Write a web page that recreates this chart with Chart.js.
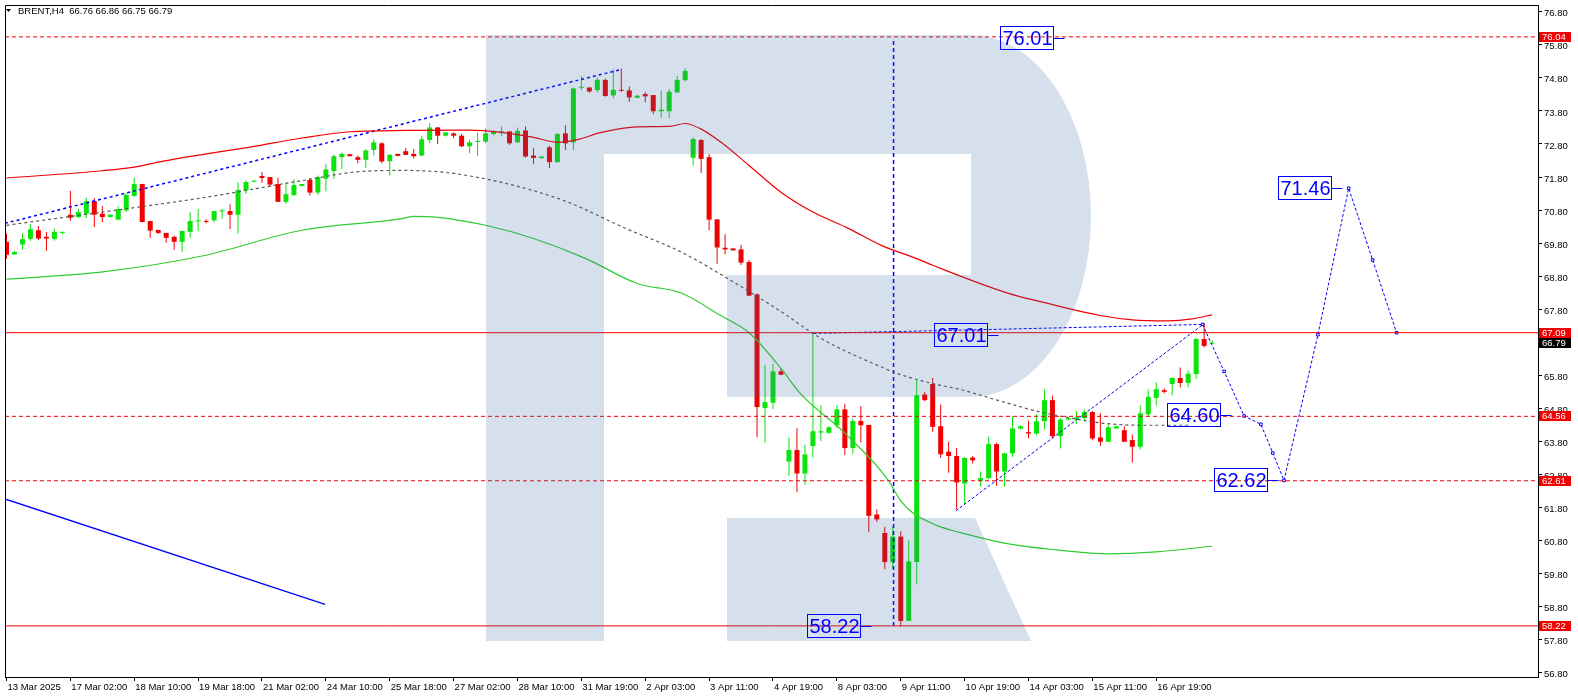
<!DOCTYPE html>
<html>
<head>
<meta charset="utf-8">
<script src="https://cdn.jsdelivr.net/npm/chart.js@4.4.1/dist/chart.umd.min.js"></script>
<style>
  html, body { margin: 0; padding: 0; background: #fff; }
  #wrap { width: 1578px; height: 698px; }
</style>
</head>
<body>
<div id="wrap"><canvas id="brent-chart" width="1578" height="698"></canvas></div>
<script>
// BRENT H4 candles, oldest first
const openV = [
  69.84, 69.46, 69.76, 69.93, 70.19, 69.99, 69.93, 70.11, 70.66, 70.59,
  70.69, 71.07, 70.69, 70.59, 70.51, 70.79, 71.23, 71.59, 70.47, 70.20,
  70.11, 69.99, 69.84, 70.14, 70.46, 70.47, 70.49, 70.76, 70.77, 70.66,
  71.40, 71.66, 71.83, 71.80, 71.59, 71.05, 71.25, 71.53, 71.71, 71.33,
  71.75, 71.98, 72.40, 72.49, 72.40, 72.32, 72.62, 72.82, 72.28, 72.50,
  72.58, 72.50, 72.45, 72.92, 73.30, 73.05, 73.12, 73.05, 72.73, 72.86,
  72.87, 73.10, 73.13, 73.18, 72.85, 73.21, 72.45, 72.37, 72.70, 72.25,
  73.12, 72.85, 74.50, 74.51, 74.43, 74.74, 74.27, 74.44, 74.42, 74.20,
  74.31, 74.28, 73.79, 73.79, 74.36, 74.73, 72.38, 72.92, 72.40, 70.52,
  69.66, 69.64, 69.61, 69.23, 68.25, 64.81, 64.97, 65.92, 63.19, 63.54,
  62.83, 63.66, 64.07, 64.06, 64.29, 64.77, 63.60, 64.42, 64.30, 61.59,
  61.03, 60.15, 60.92, 58.37, 60.15, 65.22, 65.54, 64.26, 63.49, 63.36,
  62.53, 63.31, 62.61, 62.69, 63.72, 62.89, 63.44, 64.19, 64.08, 64.04,
  64.41, 65.05, 63.96, 64.46, 64.46, 64.51, 64.69, 63.92, 63.79, 64.19,
  64.14, 63.84, 63.64, 64.62, 65.12, 65.35, 65.54, 65.72, 65.57, 65.84,
  66.90, 66.76
];
const highV = [
  70.09, 69.56, 70.09, 70.38, 70.32, 70.14, 70.24, 70.15, 71.38, 70.84,
  71.17, 71.16, 70.92, 70.67, 70.91, 71.31, 71.78, 71.60, 70.47, 70.20,
  70.11, 70.02, 70.17, 70.74, 70.83, 70.52, 70.77, 70.83, 70.98, 71.64,
  71.70, 71.71, 71.95, 71.80, 71.78, 71.63, 71.73, 71.59, 71.77, 71.85,
  72.20, 72.48, 72.55, 72.49, 72.45, 72.65, 72.95, 72.85, 72.50, 72.50,
  72.68, 72.65, 73.05, 73.43, 73.31, 73.16, 73.15, 73.10, 72.93, 73.15,
  73.27, 73.21, 73.33, 73.19, 73.30, 73.33, 72.67, 72.43, 72.75, 73.13,
  73.37, 74.51, 74.86, 74.51, 74.81, 74.78, 75.06, 75.08, 74.54, 74.29,
  74.38, 74.28, 74.41, 74.46, 74.86, 75.08, 73.00, 72.95, 72.50, 70.52,
  70.07, 69.64, 69.74, 69.29, 68.28, 66.12, 66.14, 66.01, 63.93, 64.20,
  63.70, 67.06, 64.90, 64.26, 64.90, 64.94, 64.49, 64.87, 64.30, 61.74,
  61.22, 61.22, 61.08, 60.80, 65.67, 65.30, 65.72, 64.92, 63.79, 63.60,
  63.33, 63.36, 62.89, 63.94, 63.76, 63.46, 64.56, 64.29, 64.43, 64.63,
  65.38, 65.19, 64.51, 64.54, 64.72, 64.77, 64.72, 64.65, 64.31, 64.26,
  64.26, 64.01, 64.90, 65.38, 65.59, 65.41, 65.74, 66.04, 65.95, 66.92,
  67.38, 66.86
];
const lowV = [
  69.33, 69.44, 69.60, 69.87, 69.89, 69.57, 69.87, 70.06, 70.48, 70.56,
  70.56, 70.29, 70.44, 70.57, 70.50, 70.74, 71.20, 70.43, 69.96, 70.08,
  69.81, 69.60, 69.54, 69.96, 70.17, 70.40, 70.43, 70.54, 70.23, 70.09,
  71.29, 71.64, 71.63, 71.50, 71.05, 70.99, 71.23, 71.52, 71.24, 71.26,
  71.37, 71.75, 72.04, 72.43, 72.22, 72.07, 72.45, 72.22, 71.84, 72.43,
  72.47, 72.36, 72.43, 72.83, 72.80, 73.03, 72.98, 72.70, 72.52, 72.44,
  72.83, 73.06, 73.05, 72.78, 72.83, 72.39, 72.20, 72.36, 72.07, 72.25,
  72.62, 72.62, 74.43, 74.36, 74.36, 74.24, 74.18, 74.38, 74.08, 74.18,
  74.06, 73.70, 73.60, 73.58, 74.34, 74.69, 72.15, 71.92, 70.19, 69.18,
  69.46, 69.58, 69.14, 68.20, 63.93, 63.76, 64.78, 65.80, 62.76, 62.26,
  62.49, 63.31, 63.81, 64.03, 64.21, 63.39, 63.43, 63.77, 61.05, 61.37,
  59.93, 59.95, 58.20, 58.37, 59.48, 65.02, 64.09, 63.30, 62.85, 61.75,
  61.90, 63.13, 62.43, 62.66, 62.46, 62.43, 63.33, 64.16, 63.90, 63.99,
  64.16, 63.90, 63.59, 64.44, 64.33, 64.43, 63.84, 63.66, 63.79, 64.19,
  63.78, 63.16, 63.56, 64.56, 64.89, 65.25, 65.20, 65.44, 65.44, 65.69,
  66.64, 66.75
];
const closeV = [
  69.45, 69.53, 69.92, 70.22, 69.94, 69.94, 70.14, 70.14, 70.57, 70.74,
  71.07, 70.66, 70.59, 70.66, 70.83, 71.26, 71.59, 70.44, 70.18, 70.11,
  69.96, 69.84, 70.17, 70.47, 70.48, 70.44, 70.77, 70.77, 70.66, 71.41,
  71.65, 71.68, 71.77, 71.57, 71.05, 71.28, 71.56, 71.59, 71.33, 71.80,
  72.03, 72.43, 72.50, 72.43, 72.32, 72.60, 72.85, 72.27, 72.47, 72.44,
  72.47, 72.43, 72.94, 73.30, 73.05, 73.15, 73.05, 72.73, 72.85, 72.87,
  73.12, 73.18, 73.18, 72.82, 73.20, 72.42, 72.38, 72.42, 72.25, 73.10,
  72.82, 74.48, 74.51, 74.39, 74.74, 74.25, 74.44, 74.41, 74.21, 74.26,
  74.24, 73.79, 73.84, 74.38, 74.74, 75.01, 72.95, 72.35, 70.51, 69.67,
  69.61, 69.58, 69.21, 68.21, 64.84, 64.99, 65.92, 65.82, 63.54, 62.83,
  63.41, 64.11, 64.11, 64.23, 64.77, 63.60, 64.42, 64.29, 61.55, 61.44,
  60.15, 60.92, 58.37, 60.17, 65.20, 65.05, 64.24, 63.41, 63.36, 62.56,
  63.30, 63.23, 62.69, 63.72, 62.89, 63.44, 64.19, 64.26, 64.04, 64.41,
  65.05, 63.96, 64.46, 64.50, 64.53, 64.69, 63.89, 63.79, 64.23, 64.26,
  63.79, 63.64, 64.65, 65.15, 65.38, 65.30, 65.72, 65.57, 65.85, 66.90,
  66.69, 66.79
];

// axis labels
const xTickIdx = [0, 8, 16, 24, 32, 40, 48, 56, 64, 72, 80, 88, 96, 104, 112, 120, 128, 136, 144];
const xTickLabels = [
  "13 Mar 2025", "17 Mar 02:00", "18 Mar 10:00", "19 Mar 18:00", "21 Mar 02:00",
  "24 Mar 10:00", "25 Mar 18:00", "27 Mar 02:00", "28 Mar 10:00", "31 Mar 19:00",
  "2 Apr 03:00", "3 Apr 11:00", "4 Apr 19:00", "8 Apr 03:00", "9 Apr 11:00",
  "10 Apr 19:00", "14 Apr 03:00", "15 Apr 11:00", "16 Apr 19:00"
];
const yTicks = [56.8, 57.8, 58.8, 59.8, 60.8, 61.8, 62.8, 63.8, 64.8, 65.8, 66.8,
  67.8, 68.8, 69.8, 70.8, 71.8, 72.8, 73.8, 74.8, 75.8, 76.8];

// moving averages (read at points along the curves)
const maRedIdx = [0, 12, 16, 19, 31, 37, 43, 50, 58, 62, 66, 69, 71.5, 74.5, 79, 83, 85, 87, 89.5,
  93, 97, 101, 105.5, 109.5, 114, 116, 125.5, 129.5, 137, 141, 145.5, 148.5, 151];
const maRedVal = [71.77, 71.99, 72.10, 72.25, 72.73, 72.98, 73.17, 73.21, 73.22, 73.15, 73.00, 72.85,
  72.93, 73.15, 73.32, 73.33, 73.42, 73.25, 72.85, 72.15, 71.34, 70.74, 70.24, 69.74, 69.33, 69.13,
  68.28, 68.03, 67.61, 67.48, 67.45, 67.51, 67.63];
const maGrayIdx = [0, 12, 24.5, 37, 44.5, 50, 53.5, 56, 62.5, 70, 77.5, 84.5, 91, 97, 102, 109.5,
  112, 116, 119.5, 124.5, 129.5, 133.5, 137, 142, 148];
const maGrayVal = [70.34, 70.74, 71.17, 71.69, 71.97, 72.00, 71.97, 71.91, 71.61, 71.07, 70.25, 69.53,
  68.63, 67.73, 66.92, 66.06, 65.82, 65.55, 65.37, 65.02, 64.69, 64.50, 64.36, 64.29, 64.29];
const maGreenIdx = [0, 12, 24.5, 37, 49.5, 51, 54, 60, 66, 72.5, 79, 84.5, 89.5, 93, 97, 99.5, 105,
  110.5, 112, 113.5, 116.5, 119.5, 125.5, 131.5, 138, 144, 151];
const maGreenVal = [68.71, 68.93, 69.41, 70.19, 70.54, 70.61, 70.58, 70.34, 69.94, 69.34, 68.58, 68.29,
  67.60, 67.09, 66.01, 65.23, 64.05, 62.61, 62.00, 61.64, 61.26, 61.04, 60.70, 60.52, 60.40, 60.46, 60.63];

// drawn levels and lines
const dashedLevels = [76.04, 64.56, 62.61];
const solidLevels = [67.09, 58.22];
const currentPrice = 66.79;
const chanIdx = [-0.2, 76.9];
const chanVal = [70.40, 75.05];
const oldTrendIdx = [-0.2, 39.9];
const oldTrendVal = [62.06, 58.87];
const riseIdx = [118.9, 149.8];
const riseVal = [61.70, 67.33];
const flatIdx = [101.1, 125.4, 149.8];
const flatVal = [67.07, 67.20, 67.34];
const dropIdx = [111.1, 111.1];
const dropVal = [58.22, 76.01];
const fcIdx = [149.8, 152.5, 155, 157.1, 158.6, 160, 164.25, 168.1, 171.1, 174.1];
const fcVal = [67.34, 65.92, 64.57, 64.32, 63.45, 62.62, 67.03, 71.46, 69.29, 67.09];

// text labels: value, candle index of the box's left side
const noteText = ["76.01", "67.01", "58.22", "64.60", "62.62", "71.46"];
const noteValue = [76.01, 67.01, 58.22, 64.60, 62.62, 71.46];
const noteIdx = [124.4, 116.2, 100.2, 145.3, 151.2, 159.2];

const GREEN = "#0ce20c";
const RED = "#f00000";
const BLUE = "#0000ff";
const X_MIN = -0.1875, X_MAX = 191.8125;
const Y_MIN = 56.6735, Y_MAX = 77.0048;

const pts = (xs, ys) => xs.map((x, i) => ({ x: x, y: ys[i] }));
const candleColor = openV.map((o, i) => (closeV[i] >= o ? GREEN : RED));

function lineSet(data, color, width, dash, extra) {
  return Object.assign({
    type: "line",
    data: data,
    borderColor: color,
    borderWidth: width,
    borderDash: dash,
    pointRadius: 0,
    fill: false,
    tension: 0,
    order: 0
  }, extra || {});
}

function drawLogo(ctx) {
  ctx.save();
  ctx.fillStyle = "rgba(50,100,160,0.2)";
  ctx.beginPath();
  ctx.rect(486, 35, 118, 606);
  ctx.rect(604, 35, 367, 119);
  ctx.rect(727, 275, 244, 122);
  ctx.moveTo(971, 35);
  ctx.ellipse(971, 216, 120, 181, 0, -Math.PI / 2, Math.PI / 2);
  ctx.closePath();
  ctx.moveTo(727, 518);
  ctx.lineTo(975, 518);
  ctx.lineTo(1031, 641);
  ctx.lineTo(727, 641);
  ctx.closePath();
  ctx.fill();
  ctx.restore();
}

const overlayPlugin = {
  id: "overlay",
  afterDatasetsDraw(chart) {
    const { ctx, scales: { x, y } } = chart;
    drawLogo(ctx);

    ctx.save();
    ctx.font = '20px "Liberation Sans"';
    ctx.textBaseline = "middle";
    ctx.strokeStyle = BLUE;
    ctx.fillStyle = BLUE;
    ctx.lineWidth = 1;
    noteText.forEach((t, i) => {
      const left = Math.round(x.getPixelForValue(noteIdx[i])) + 0.5;
      const mid = Math.round(y.getPixelForValue(noteValue[i]));
      const w = Math.round(ctx.measureText(t).width) + 3;
      ctx.strokeRect(left, mid - 11.5, w, 23);
      ctx.fillText(t, left + 2, mid + 1);
      ctx.beginPath();
      ctx.moveTo(left + w, mid + 0.5);
      ctx.lineTo(left + w + 11, mid + 0.5);
      ctx.stroke();
    });
    ctx.restore();
  },
  afterDraw(chart) {
    const { ctx, chartArea, scales: { y } } = chart;
    ctx.save();
    // frame
    ctx.strokeStyle = "#000";
    ctx.lineWidth = 1;
    ctx.beginPath();
    ctx.moveTo(chartArea.left + 0.5, chartArea.bottom);
    ctx.lineTo(chartArea.left + 0.5, chartArea.top + 0.5);
    ctx.lineTo(chartArea.right, chartArea.top + 0.5);
    ctx.stroke();

    // price tags on the right axis
    ctx.font = '9.5px "Liberation Sans"';
    ctx.textBaseline = "middle";
    const tag = (v, bg) => {
      const py = Math.round(y.getPixelForValue(v));
      ctx.fillStyle = bg;
      ctx.fillRect(chartArea.right + 1, py - 5, 32, 10);
      ctx.fillStyle = "#fff";
      ctx.fillText(v.toFixed(2), chartArea.right + 4, py + 0.5);
    };
    dashedLevels.concat(solidLevels).forEach((v) => tag(v, RED));
    tag(currentPrice, "#000");

    // header
    const last = openV.length - 1;
    ctx.fillStyle = "#000";
    ctx.beginPath();
    ctx.moveTo(6, 9);
    ctx.lineTo(11, 9);
    ctx.lineTo(8.5, 12);
    ctx.closePath();
    ctx.fill();
    ctx.fillText("BRENT,H4  " + [openV[last], highV[last], lowV[last], closeV[last]]
      .map((v) => v.toFixed(2)).join(" "), 18, 11);
    ctx.restore();
  }
};

Chart.defaults.font.family = "Liberation Sans";

new Chart(document.getElementById("brent-chart"), {
  type: "bar",
  data: {
    datasets: [
      ...dashedLevels.map((v) => lineSet(pts([X_MIN, X_MAX], [v, v]), RED, 1, [4, 3])),
      ...solidLevels.map((v) => lineSet(pts([X_MIN, X_MAX], [v, v]), RED, 1, [])),
      lineSet(pts(maRedIdx, maRedVal), "#f00000", 1.2, [], { cubicInterpolationMode: "monotone" }),
      lineSet(pts(maGrayIdx, maGrayVal), "#5a5a5a", 1.2, [3, 3], { cubicInterpolationMode: "monotone" }),
      lineSet(pts(maGreenIdx, maGreenVal), "#2fcd2f", 1.2, [], { cubicInterpolationMode: "monotone" }),
      lineSet(pts(chanIdx, chanVal), BLUE, 1.5, [3, 3]),
      lineSet(pts(oldTrendIdx, oldTrendVal), BLUE, 1.3, []),
      lineSet(pts(riseIdx, riseVal), BLUE, 1, [3, 2]),
      lineSet(pts(flatIdx, flatVal), BLUE, 1, [3, 2]),
      lineSet(pts(dropIdx, dropVal), BLUE, 1.5, [4, 3]),
      lineSet(pts(fcIdx, fcVal), BLUE, 1, [3, 2], {
        pointRadius: 1.8, pointStyle: "rect", pointBackgroundColor: "#fff",
        pointBorderColor: BLUE, pointBorderWidth: 1
      }),
      {
        label: "Bodies",
        data: openV.map((o, i) => ({ x: i, y: [o, closeV[i]] })),
        backgroundColor: candleColor,
        barThickness: 5,
        minBarLength: 1,
        grouped: false,
        borderWidth: 0,
        inflateAmount: 0,
        order: 10
      },
      {
        label: "Wicks",
        data: lowV.map((l, i) => ({ x: i, y: [l, highV[i]] })),
        backgroundColor: candleColor,
        barThickness: 1,
        minBarLength: 1,
        grouped: false,
        borderWidth: 0,
        inflateAmount: 0,
        order: 11
      }
    ]
  },
  options: {
    responsive: false,
    animation: false,
    devicePixelRatio: 1,
    events: [],
    layout: { padding: { left: 2, top: 2, right: 0, bottom: 0 } },
    plugins: {
      legend: { display: false },
      tooltip: { enabled: false }
    },
    scales: {
      x: {
        type: "linear",
        position: "bottom",
        min: X_MIN,
        max: X_MAX,
        offset: false,
        grid: { display: true, drawOnChartArea: false, offset: false, color: "#000", tickLength: 4 },
        border: { display: true, color: "#000", width: 1 },
        ticks: {
          autoSkip: false,
          maxRotation: 0,
          minRotation: 0,
          align: "start",
          padding: 1,
          labelOffset: 1,
          color: "#000",
          font: { size: 9.5 },
          callback: (v, i) => xTickLabels[i]
        },
        afterBuildTicks: (s) => { s.ticks = xTickIdx.map((v) => ({ value: v })); },
        afterFit: (s) => { s.height = 21; s.paddingLeft = 0; s.paddingRight = 0; }
      },
      y: {
        type: "linear",
        position: "right",
        min: Y_MIN,
        max: Y_MAX,
        grid: { display: true, drawOnChartArea: false, color: "#000", tickLength: 4 },
        border: { display: true, color: "#000", width: 1 },
        ticks: {
          autoSkip: false,
          padding: 2,
          labelOffset: 2,
          color: "#000",
          font: { size: 9.5 },
          callback: (v) => v.toFixed(2)
        },
        afterBuildTicks: (s) => { s.ticks = yTicks.map((v) => ({ value: v })); },
        afterFit: (s) => { s.width = 40; s.paddingTop = 0; s.paddingBottom = 0; }
      }
    }
  },
  plugins: [overlayPlugin]
});
</script>
</body>
</html>
